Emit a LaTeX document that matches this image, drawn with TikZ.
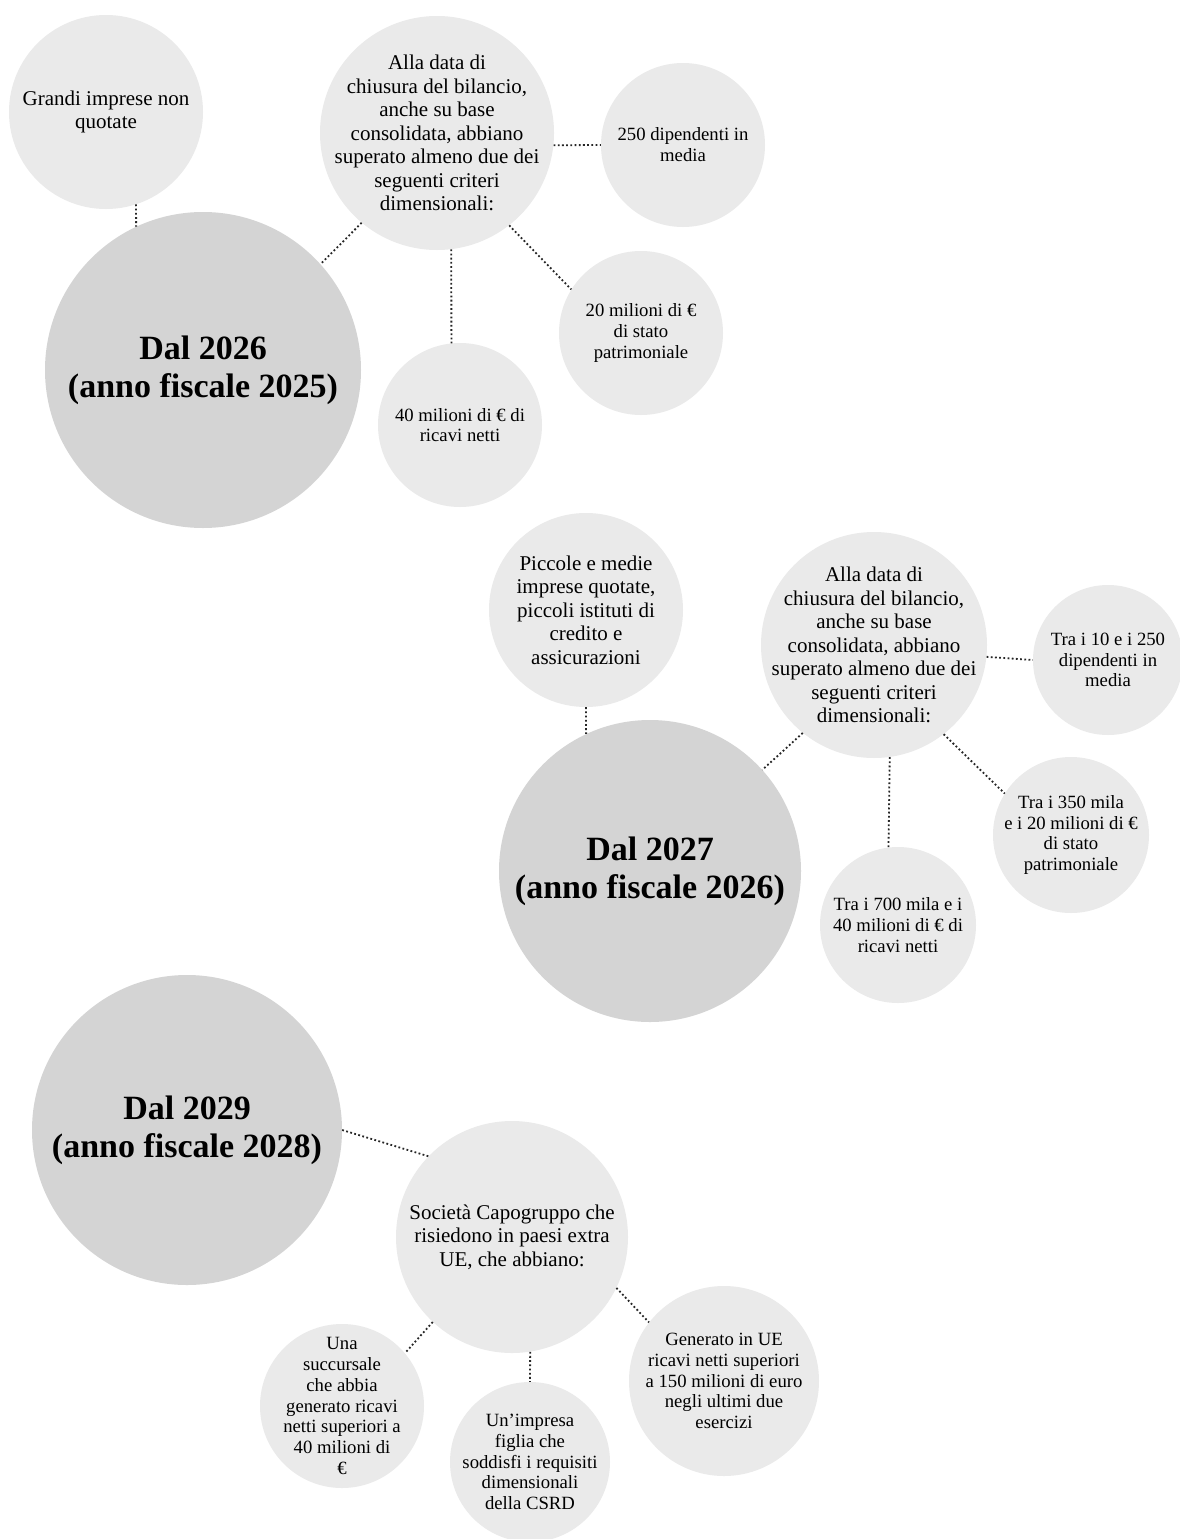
\documentclass[tikz,border=0pt]{standalone}
\usepackage{fontspec}
\setmainfont{Liberation Serif}
\usepackage{xcolor}
\definecolor{yeargray}{RGB}{212,212,212}
\definecolor{itemgray}{RGB}{234,234,234}

\begin{document}
\begin{tikzpicture}[x=1pt,y=-1pt,
    yearbub/.style={circle,fill=yeargray,inner sep=0pt,minimum size=#1},
    itembub/.style={circle,fill=itemgray,inner sep=0pt,minimum size=#1},
    yeartxt/.style={align=center,font=\fontsize{34}{38}\selectfont\bfseries},
    midtxt/.style={align=center,font=\fontsize{21}{23.5}\selectfont},
    smalltxt/.style={align=center,font=\fontsize{18.7}{20.8}\selectfont},
    link/.style={draw=black!85,line width=1.8pt,dash pattern=on 1.8pt off 2.4pt}]
\path[use as bounding box,fill=white] (0,0) rectangle (1179,1539);

% 2026
\node[itembub=194pt,label={[midtxt]center:{Grandi imprese non\\quotate}}] (grandi) at (106,112) {};
\node[yearbub=316pt,label={[yeartxt]center:{Dal 2026\\(anno fiscale 2025)}}] (d26) at (203,370) {};
\node[itembub=234pt,label={[midtxt]center:{Alla data di\\chiusura del bilancio,\\anche su base\\consolidata, abbiano\\superato almeno due dei\\seguenti criteri\\dimensionali:}}] (crit26) at (437,133) {};
\node[itembub=164pt,label={[smalltxt]center:{250 dipendenti in\\media}}] (dip26) at (683,145) {};
\node[itembub=164pt,label={[smalltxt]center:{20 milioni di €\\di stato\\patrimoniale}}] (pat26) at (641,333) {};
\node[itembub=164pt,label={[smalltxt]center:{40 milioni di € di\\ricavi netti}}] (ric26) at (460,425) {};

\draw[link] (grandi.-72) -- (d26.115);
\draw[link] (crit26.230) -- (d26.42);
\draw[link] (crit26.-6) -- (dip26.180);
\draw[link] (crit26.-52) -- (pat26.148);
\draw[link] (crit26.-83) -- (ric26.96);

% 2027
\node[itembub=194pt,label={[midtxt]center:{Piccole e medie\\imprese quotate,\\piccoli istituti di\\credito e\\assicurazioni}}] (pmi) at (586,610) {};
\node[yearbub=302pt,label={[yeartxt]center:{Dal 2027\\(anno fiscale 2026)}}] (d27) at (650,871) {};
\node[itembub=226pt,label={[midtxt]center:{Alla data di\\chiusura del bilancio,\\anche su base\\consolidata, abbiano\\superato almeno due dei\\seguenti criteri\\dimensionali:}}] (crit27) at (874,645) {};
\node[itembub=150pt,label={[smalltxt]center:{Tra i 10 e i 250\\dipendenti in\\media}}] (dip27) at (1108,660) {};
\node[itembub=156pt,label={[smalltxt]center:{Tra i 350 mila\\e i 20 milioni di €\\di stato\\patrimoniale}}] (pat27) at (1071,835) {};
\node[itembub=156pt,label={[smalltxt]center:{Tra i 700 mila e i\\40 milioni di € di\\ricavi netti}}] (ric27) at (898,925) {};

\draw[link] (pmi.-90) -- (d27.115);
\draw[link] (crit27.231) -- (d27.42);
\draw[link] (crit27.-6) -- (dip27.180);
\draw[link] (crit27.-52) -- (pat27.148);
\draw[link] (crit27.-82) -- (ric27.97);

% 2029
\node[yearbub=310pt,label={[yeartxt]center:{Dal 2029\\(anno fiscale 2028)}}] (d29) at (187,1130) {};
\node[itembub=232pt,label={[midtxt]center:{Società Capogruppo che\\risiedono in paesi extra\\UE, che abbiano:}}] (capo) at (512,1237) {};
\node[itembub=164pt,label={[smalltxt]center:{Una\\succursale\\che abbia\\generato ricavi\\netti superiori a\\40 milioni di\\€}}] (succ) at (342,1406) {};
\node[itembub=160pt,label={[smalltxt]center:{Un’impresa\\figlia che\\soddisfi i requisiti\\dimensionali\\della CSRD}}] (figlia) at (530,1462) {};
\node[itembub=190pt,label={[smalltxt]center:{Generato in UE\\ricavi netti superiori\\a 150 milioni di euro\\negli ultimi due\\esercizi}}] (ricue) at (724,1381) {};

\draw[link] (d29.0) -- (capo.136);
\draw[link] (capo.227) -- (succ.40);
\draw[link] (capo.-81) -- (figlia.90);
\draw[link] (capo.-26) -- (ricue.142);
\end{tikzpicture}
\end{document}
